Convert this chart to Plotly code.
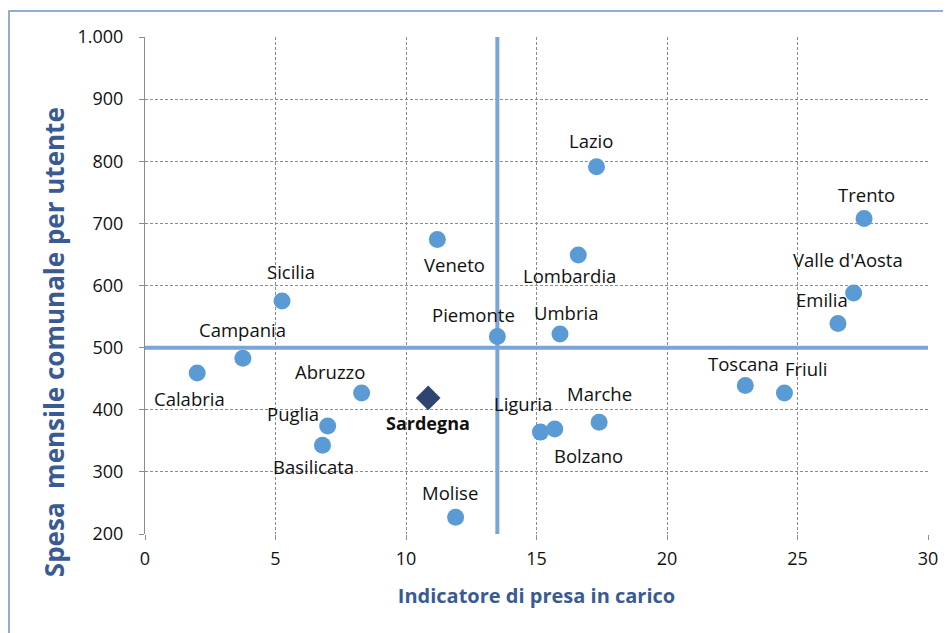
import plotly.graph_objects as go

# dati regionali
regioni = ['Calabria', 'Campania', 'Sicilia', 'Abruzzo', 'Puglia', 'Basilicata', 'Veneto',
           'Molise', 'Piemonte', 'Lazio', 'Lombardia', 'Umbria', 'Liguria', 'Bolzano',
           'Marche', 'Toscana', 'Friuli', 'Emilia', "Valle d'Aosta", 'Trento']
presa_in_carico = [2.0, 3.75, 5.25, 8.3, 7.0, 6.8, 11.2,
                   11.9, 13.5, 17.3, 16.6, 15.9, 15.15, 15.7,
                   17.4, 23.0, 24.5, 26.55, 27.15, 27.55]
spesa_mensile = [459, 483, 575, 427, 374, 343, 674,
                 227, 518, 791, 649, 522, 364, 369,
                 380, 439, 427, 539, 588, 708]

sardegna_x = [10.85]
sardegna_y = [419]

media_x = 13.5
media_y = 500

# spostamento etichette in pixel (dx, dy)
offset_etichette = [(-8, -25), (0, 29), (9, 30), (-32, 21), (-35, 12), (-9, -21), (17, -25),
                    (-6, 25), (-24, 22), (-6, 26), (-9, -20), (6, 21), (-17, 29), (34, -26),
                    (0, 29), (-2, 22), (22, 24), (-16, 24), (-6, 33), (2, 24)]

fig = go.Figure()

# linee di riferimento
fig.add_trace(go.Scatter(x=[0, 30], y=[media_y, media_y], mode='lines',
                         line=dict(color='#7ba4d9', width=4), hoverinfo='skip', showlegend=False))
fig.add_trace(go.Scatter(x=[media_x, media_x], y=[200, 1000], mode='lines',
                         line=dict(color='#7ba4d9', width=4), hoverinfo='skip', showlegend=False))

fig.add_trace(go.Scatter(x=presa_in_carico, y=spesa_mensile, mode='markers', text=regioni,
                         marker=dict(color='#5b9bd5', size=17, symbol='circle'), showlegend=False))
fig.add_trace(go.Scatter(x=sardegna_x, y=sardegna_y, mode='markers', text=['Sardegna'],
                         marker=dict(color='#2e4473', size=19, symbol='diamond'), showlegend=False))

for nome, x, y, (dx, dy) in zip(regioni, presa_in_carico, spesa_mensile, offset_etichette):
    fig.add_annotation(x=x, y=y, text=nome, showarrow=False, xshift=dx, yshift=dy,
                       font=dict(family='Open Sans', size=18.5, color='#111111'))
fig.add_annotation(x=sardegna_x[0], y=sardegna_y[0], text='<b>Sardegna</b>', showarrow=False,
                   xshift=0, yshift=-25, font=dict(family='Open Sans', size=18, color='#111111'))

# titolo asse y (spostato verso il basso come nell'originale)
fig.add_annotation(xref='paper', yref='paper', x=-0.1162, y=0.386, textangle=-90,
                   xanchor='center', yanchor='middle',
                   text='<b>Spesa  mensile comunale per utente</b>', showarrow=False,
                   font=dict(family='Open Sans', size=26, color='#3a5a94'))

# cornice esterna (la pagina ha 8px di margine)
fig.add_shape(type='rect', xref='paper', yref='paper', x0=-0.1737, x1=1.2, y0=-0.4, y1=1.0523,
              line=dict(color='#7291c8', width=1.5), fillcolor='rgba(0,0,0,0)', layer='below')

fig.update_xaxes(range=[0, 30], dtick=5, showgrid=True, gridcolor='#8c8c8c', griddash='3px,2px',
                 gridwidth=1, zeroline=False, showline=False, ticks='outside', ticklen=5,
                 tickcolor='#8c8c8c', ticklabelstandoff=3,
                 tickfont=dict(family='Open Sans', size=18, color='#111111'),
                 title=dict(text='<b>Indicatore di presa in carico</b>', standoff=20,
                            font=dict(family='Open Sans', size=20, color='#3a5a94')))
fig.update_yaxes(range=[200, 1000], dtick=100, tickformat=',d', showgrid=True, gridcolor='#8c8c8c',
                 griddash='3px,2px', gridwidth=1, zeroline=False, showline=True, linecolor='#8c8c8c',
                 ticks='outside', ticklen=5, tickcolor='#8c8c8c', ticklabelstandoff=12,
                 tickfont=dict(family='Open Sans', size=18, color='#111111'))

fig.update_layout(width=943, height=625, separators=',.',
                  margin=dict(l=137, r=23, t=29, b=99),
                  plot_bgcolor='white', paper_bgcolor='white')

fig.write_html("out.html")
